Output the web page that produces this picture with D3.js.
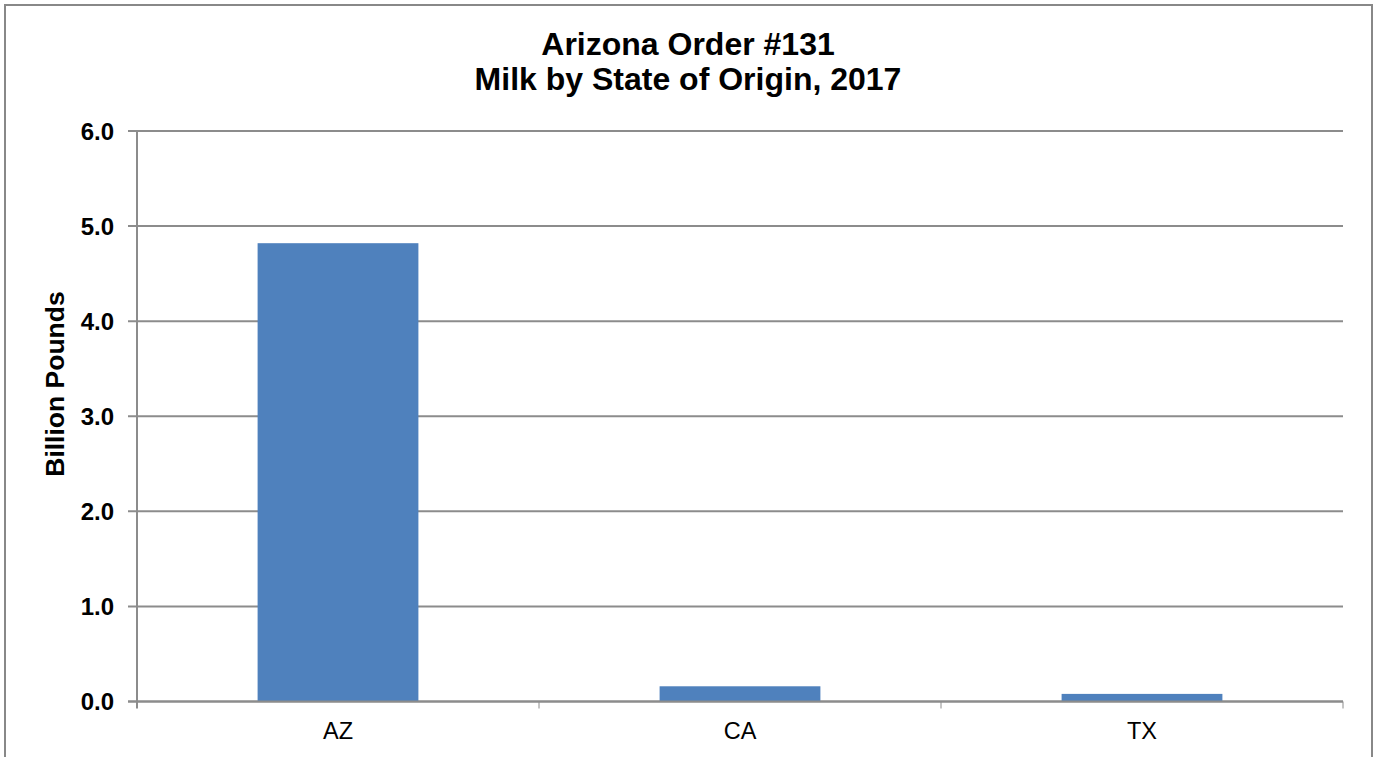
<!DOCTYPE html>
<html>
<head>
<meta charset="utf-8">
<script src="https://cdn.jsdelivr.net/npm/d3@7"></script>
<style>
  body { margin: 0; background: #fff; }
  text { font-family: "Liberation Sans", Arial, sans-serif; }
</style>
</head>
<body>
<svg id="chart" width="1377" height="757"></svg>
<script>
// data
let states = ['AZ', 'CA', 'TX']
let milk = [4.82, 0.16, 0.08]
let yTicks = [0, 1, 2, 3, 4, 5, 6]
let titleLines = ['Arizona Order #131', 'Milk by State of Origin, 2017']

let svg = d3.select('#chart')
let m = {left: 137, right: 1343, top: 131, bottom: 701.5}

// outer frame (bottom edge runs off the picture)
svg.append('rect')
  .attr('x', 5).attr('y', 5)
  .attr('width', 1367).attr('height', 800)
  .attr('fill', 'none').attr('stroke', '#888').attr('stroke-width', 2)

let x = d3.scaleBand().domain(states).range([m.left, m.right])
  .paddingInner(0.6).paddingOuter(0.3)
let xb = d3.scaleBand().domain(states).range([m.left, m.right])
let y = d3.scaleLinear().domain([0, 6]).range([m.bottom, m.top])

// gridlines
svg.append('g').selectAll('line').data(yTicks).enter()
  .append('line')
  .attr('x1', m.left - 9).attr('x2', m.right)
  .attr('y1', d => y(d)).attr('y2', d => y(d))
  .attr('stroke', '#8c8c8c').attr('stroke-width', 2)

// y tick labels
svg.append('g').selectAll('text').data(yTicks).enter()
  .append('text')
  .attr('x', 114).attr('y', d => y(d))
  .attr('dy', '0.36em')
  .attr('text-anchor', 'end')
  .attr('font-size', 24).attr('font-weight', 'bold')
  .text(d => d3.format('.1f')(d))

// bars
svg.append('g').selectAll('rect').data(milk).enter()
  .append('rect')
  .attr('x', (d, i) => x(states[i]))
  .attr('width', x.bandwidth())
  .attr('y', d => y(d))
  .attr('height', d => y(0) - y(d))
  .attr('fill', '#4f81bd')

// y axis line
svg.append('line')
  .attr('x1', m.left).attr('x2', m.left)
  .attr('y1', m.top).attr('y2', m.bottom + 7)
  .attr('stroke', '#8c8c8c').attr('stroke-width', 2)

// baseline
svg.append('line')
  .attr('x1', m.left - 9).attr('x2', m.right)
  .attr('y1', y(0)).attr('y2', y(0))
  .attr('stroke', '#8c8c8c').attr('stroke-width', 2)

// category separators
let seps = states.slice(1).map(s => xb(s))
seps.push(m.right)
svg.append('g').selectAll('line').data(seps).enter()
  .append('line')
  .attr('x1', d => d).attr('x2', d => d)
  .attr('y1', y(0)).attr('y2', y(0) + 7)
  .attr('stroke', '#8c8c8c').attr('stroke-width', 1)

// x labels
svg.append('g').selectAll('text').data(states).enter()
  .append('text')
  .attr('x', d => xb(d) + xb.bandwidth() / 2)
  .attr('y', 739)
  .attr('text-anchor', 'middle')
  .attr('font-size', 23.5)
  .text(d => d)

// title
svg.append('g').selectAll('text').data(titleLines).enter()
  .append('text')
  .attr('x', 688)
  .attr('y', (d, i) => 55 + i * 35)
  .attr('text-anchor', 'middle')
  .attr('font-size', 32).attr('font-weight', 'bold')
  .text(d => d)

// y axis title
svg.append('text')
  .attr('transform', 'translate(64,384) rotate(-90)')
  .attr('text-anchor', 'middle')
  .attr('font-size', 26.5).attr('font-weight', 'bold')
  .text('Billion Pounds')
</script>
</body>
</html>
